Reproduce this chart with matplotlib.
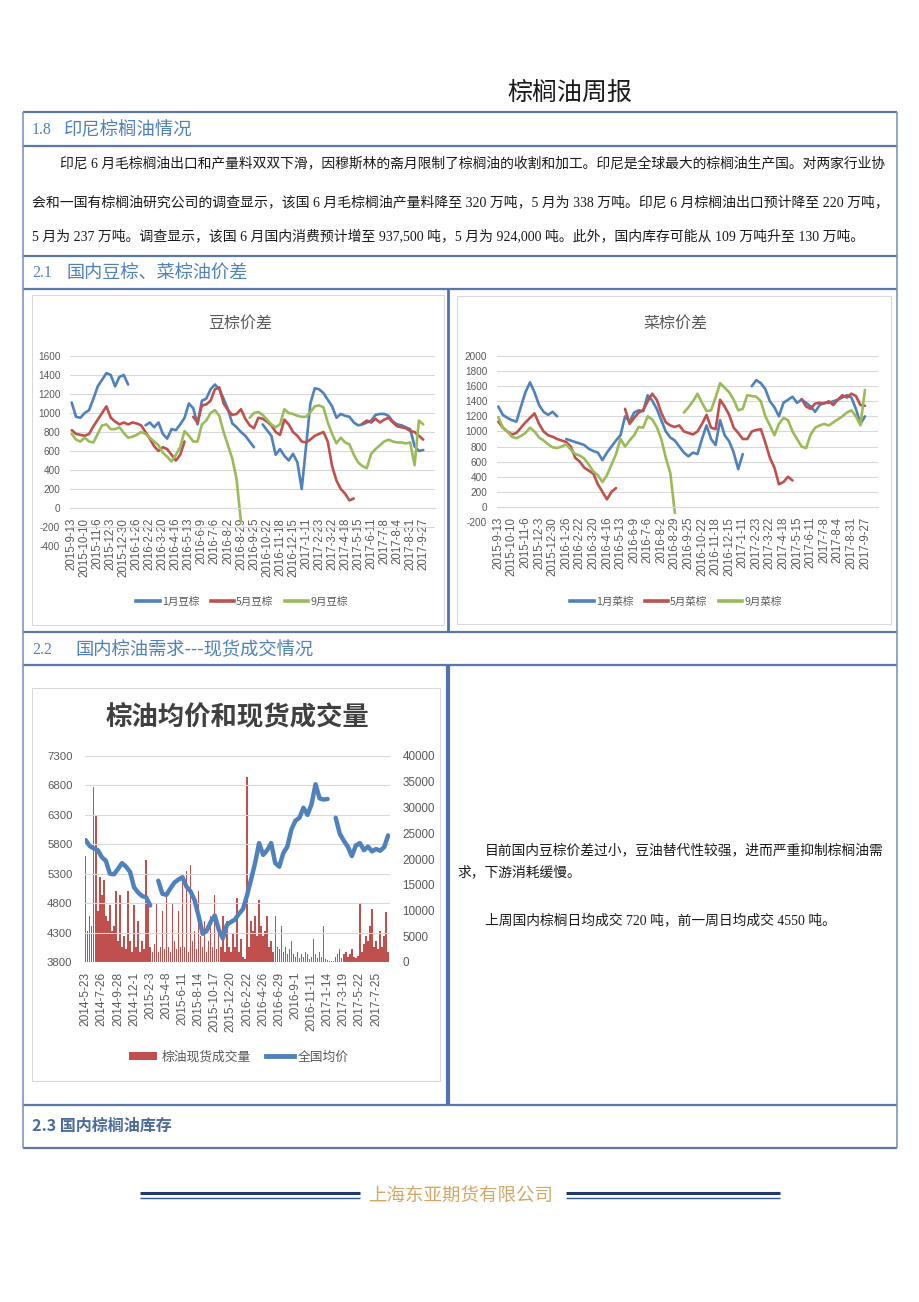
import numpy as np
import matplotlib
matplotlib.use('Agg')
import matplotlib.pyplot as plt
from matplotlib.lines import Line2D
from matplotlib.patches import Rectangle, Patch

N = None

# ---------------- data ----------------
spread_labels = ['2015-9-13', '2015-10-10', '2015-11-6', '2015-12-3', '2015-12-30', '2016-1-26',
                 '2016-2-22', '2016-3-20', '2016-4-16', '2016-5-13', '2016-6-9', '2016-7-6',
                 '2016-8-2', '2016-8-29', '2016-9-25', '2016-10-22', '2016-11-18', '2016-12-15',
                 '2017-1-11', '2017-2-23', '2017-3-22', '2017-4-18', '2017-5-15', '2017-6-11',
                 '2017-7-8', '2017-8-4', '2017-8-31', '2017-9-27']
SPREAD_PER_LABEL = 3   # samples per category label

soy_names = ['1月豆棕', '5月豆棕', '9月豆棕']
soy_jan = [1110, 960, 950, 1000, 1030, 1150, 1280, 1350, 1420, 1400, 1280, 1380, 1400, 1300, N, N, N,
           870, 900, 850, 900, 780, 730, 830, 820, 880, 950, 1100, 1050, 880, 1130, 1150, 1250, 1300,
           1250, 1150, 1040, 890, 850, 800, 760, 700, 640, N, 880, 820, 760, 560, 620, 550, 500, 570,
           480, 200, 650, 1100, 1260, 1250, 1210, 1140, 1070, 950, 990, 970, 960, 900, 870, 880, 900,
           920, 980, 990, 990, 970, 910, 880, 870, 850, 830, 650, 600, 610]
soy_may = [820, 780, 770, 760, 780, 860, 930, 1000, 1070, 950, 910, 880, 900, 880, 900, 890, 870, 800,
           730, 650, 600, 640, 620, 560, 500, 560, 700, N, 960, 900, 1080, 1090, 1130, 1250, 1270, 1100,
           1030, 980, 990, 1040, 940, 870, 840, 950, 940, 910, 870, 800, 770, 930, 880, 800, 760, 700,
           690, 720, 760, 780, 800, 700, 440, 290, 200, 150, 80, 100, N, 890, 920, 900, 940, 900, 930,
           950, 900, 860, 850, 840, 810, 800, 760, 720]
soy_sep = [780, 720, 700, 740, 700, 690, 780, 870, 880, 830, 830, 850, 790, 740, 750, 770, 800, 780,
           740, 700, 660, 580, 540, 490, 560, 640, 810, 760, 700, 700, 880, 920, 1000, 1030, 970, 800,
           660, 520, 300, -150, N, 950, 1000, 1010, 980, 930, 880, 850, 880, 1040, 1000, 990, 970, 960,
           960, 1010, 1070, 1080, 1060, 900, 780, 680, 740, 690, 670, 560, 480, 440, 420, 570, 620, 660,
           700, 720, 700, 690, 690, 680, 690, 450, 920, 880]

rape_names = ['1月菜棕', '5月菜棕', '9月菜棕']
rape_jan = [1330, 1220, 1180, 1150, 1130, 1330, 1520, 1650, 1520, 1350, 1260, 1220, 1260, 1200, N,
            900, 880, 860, 840, 820, 770, 740, 720, 620, 720, 800, 880, 950, 1200, 1130, 1250, 1280,
            1270, 1480, 1410, 1300, 1150, 1000, 920, 880, 800, 720, 670, 720, 700, 900, 1080, 900, 820,
            1150, 950, 870, 720, 500, 700, N, 1600, 1680, 1640, 1560, 1400, 1320, 1200, 1380, 1420,
            1460, 1380, 1420, 1380, 1330, 1260, 1350, 1380, 1380, 1400, 1420, 1450, 1480, 1450, 1300,
            1100, 1200]
rape_may = [1130, 1050, 1000, 960, 980, 1050, 1120, 1180, 1240, 1100, 1000, 950, 930, 900, 880, 860,
            800, 650, 600, 520, 480, 440, 300, 200, 100, 200, 250, N, 1300, 1100, 1180, 1250, 1280, 1400,
            1500, 1420, 1250, 1120, 1080, 1060, 1080, 1000, 980, 960, 1000, 1100, 1220, 1050, 1030, 1420,
            1330, 1220, 1050, 980, 900, 900, 1000, 1020, 1030, 850, 650, 520, 300, 330, 400, 350, N, 1430,
            1330, 1300, 1370, 1380, 1370, 1400, 1350, 1420, 1480, 1450, 1500, 1470, 1350, 1340]
rape_sep = [1190, 1050, 1000, 930, 910, 940, 980, 1050, 1000, 920, 880, 830, 790, 780, 800, 830, 760,
            700, 680, 640, 560, 470, 420, 330, 420, 560, 700, 900, 800, 880, 950, 1060, 1050, 1200, 1160,
            1060, 900, 650, 450, -80, N, 1250, 1320, 1400, 1500, 1380, 1270, 1280, 1450, 1640, 1580, 1520,
            1420, 1280, 1300, 1480, 1470, 1460, 1400, 1200, 1080, 950, 1100, 1180, 1150, 1000, 900, 800,
            780, 960, 1050, 1080, 1100, 1080, 1120, 1160, 1200, 1250, 1280, 1200, 1080, 1550]

demand_labels = ['2014-5-23', '2014-7-26', '2014-9-28', '2014-12-1', '2015-2-3', '2015-4-8', '2015-6-11',
                 '2015-8-14', '2015-10-17', '2015-12-20', '2016-2-22', '2016-4-26', '2016-6-29',
                 '2016-9-1', '2016-11-11', '2017-1-14', '2017-3-19', '2017-5-22', '2017-7-25']
demand_names = ['棕油现货成交量', '全国均价']
PRICE_PER_LABEL = 4
price = [5870, 5770, 5730, 5700, 5580, 5520, 5300, 5290, 5380, 5480, 5420, 5330, 5070, 4980, 4920, 4900,
         4760, N, 5180, 4960, 4940, 5050, 5150, 5200, 5240, 5080, 5000, 4850, 4580, 4280, 4330, 4480,
         4590, 4350, 4200, 4430, 4480, 4520, 4620, 4700, 4930, 5200, 5480, 5820, 5620, 5700, 5820, 5480,
         5420, 5650, 5760, 6050, 6200, 6250, 6420, 6300, 6480, 6820, 6580, 6560, 6570, N, 6250, 5980,
         5860, 5760, 5600, 5780, 5820, 5700, 5760, 5680, 5720, 5690, 5750, 5950]
VOLUME_PER_LABEL = 8
volume = [20500, 6000, 9000, 7000, 34000, 28500, 10000, 16500,
          13000, 16000, 9000, 8000, 11000, 6000, 7000, 13700,
          4000, 13000, 3000, 5000, 2500, 13700, 4000, 2000,
          11000, 3000, 8000, 2000, 4000, 2500, 19800, 12500,
          3000, 2000, 3500, 11400, 2000, 3000, 10000, 2500,
          13000, 3000, 2000, 11400, 4000, 2500, 10000, 3000,
          16600, 3000, 17700, 2000, 18800, 4000, 6000, 2500,
          13700, 5000, 3000, 8000, 2000, 4000, 9000, 3000,
          13000, 2500, 6000, 3000, 9000, 2000, 8000, 3000,
          2000, 5700, 3000, 12500, 2000, 4500, 1000, 500,
          36000, 3000, 8000, 6000, 9000, 5000, 12000, 7000,
          5000, 6000, 9000, 3000, 4000, 2000, 9000, 3000,
          2500, 7000, 2000, 3000, 1500, 2500, 4000, 1500,
          1000, 2000, 800, 1500, 1000, 2000, 1500, 600,
          1000, 4500, 1500, 800, 2000, 1000, 7000, 500,
          300, 200, 100, 200, 1000, 1500, 2500, 800,
          1500, 2000, 1000, 1500, 2500, 1000, 800, 1200,
          11400, 2000, 3500, 5000, 4000, 7000, 10300, 3000,
          4000, 2500, 6000, 3000, 5000, 9700, 2000]

# ---------------- styling ----------------
CJK = ['Noto Sans CJK SC', 'DejaVu Sans']
SERIF = ['Liberation Serif', 'Noto Sans CJK SC']
NUM = ['Liberation Sans', 'DejaVu Sans']
plt.rcParams['font.family'] = CJK
plt.rcParams['axes.unicode_minus'] = False

C_BLUE, C_RED, C_GREEN = '#4f81bd', '#c0504d', '#9bbb59'
GRID = '#d9d9d9'
TICK = '#595959'
HEAD = '#4f81bd'
RULE = '#5a78aa'

W, H = 920, 1302
fig = plt.figure(figsize=(W / 100, H / 100), dpi=100)
fig.patch.set_facecolor('white')
renderer = fig.canvas.get_renderer()


def fx(x):
    return x / W


def fy(y):
    return 1 - y / H


def hline(x0, x1, y, color=RULE, lw=1.6):
    fig.add_artist(Line2D([fx(x0), fx(x1)], [fy(y), fy(y)], transform=fig.transFigure,
                          color=color, lw=lw, solid_capstyle='butt'))


def vline(x, y0, y1, color=RULE, lw=1.2):
    fig.add_artist(Line2D([fx(x), fx(x)], [fy(y0), fy(y1)], transform=fig.transFigure,
                          color=color, lw=lw, solid_capstyle='butt'))


def text(x, y, s, size, **kw):
    kw.setdefault('va', 'center')
    kw.setdefault('ha', 'left')
    return fig.text(fx(x), fy(y), s, fontsize=size, **kw)


def fit_text(x0, x1, y, s, size, **kw):
    t = text(x0, y, s, size, **kw)
    w = t.get_window_extent(renderer).width
    t.set_fontsize(size * (x1 - x0) / w)
    return t


def frame(x0, y0, x1, y1):
    fig.add_artist(Rectangle((fx(x0), fy(y1)), fx(x1) - fx(x0), fy(y0) - fy(y1),
                             transform=fig.transFigure, fill=False, edgecolor=GRID, lw=0.8))


def to_arr(v):
    return np.array([np.nan if a is None else a for a in v], float)


def style_ticks(labels, family, size):
    for t in labels:
        t.set_fontfamily(family)
        t.set_fontsize(size)
        t.set_color(TICK)


# ---------------- page layout ----------------
text(570, 93, '棕榈油周报', 18, ha='center', color='#1a1a1a')

for y in (112, 146, 256, 289, 632, 665, 1105, 1148):
    hline(23, 897, y)
vline(23, 112, 1148, color='#7d96c4')
vline(897, 112, 1148, color='#7d96c4')
vline(448, 289, 632, color='#4f72b0', lw=2.0)
vline(448, 665, 1105, color='#4f72b0', lw=3.0)

# section headers
fit_text(32, 52, 130, '1.8', 12, color=HEAD, family=SERIF)
fit_text(64, 192, 130, '印尼棕榈油情况', 12, color=HEAD)
fit_text(32, 52, 273, '2.1', 12, color=HEAD, family=SERIF)
fit_text(66, 247, 273, '国内豆棕、菜棕油价差', 12, color=HEAD)
fit_text(32, 52, 650, '2.2', 12, color=HEAD, family=SERIF)
fit_text(75, 313, 650, '国内棕油需求---现货成交情况', 12, color=HEAD)
fit_text(32, 172, 1126, '2.3 国内棕榈油库存', 11.5, color='#4a6a9c', fontweight='bold')

# paragraph 1.8
p1 = fit_text(60, 890, 163, '印尼 6 月毛棕榈油出口和产量料双双下滑，因穆斯林的斋月限制了棕榈油的收割和加工。'
              '印尼是全球最大的棕榈油生产国。对两家行业协', 9.8, color='#1a1a1a', family=SERIF)
p2 = fit_text(32, 890, 202, '会和一国有棕榈油研究公司的调查显示，该国 6 月毛棕榈油产量料降至 320 万吨，'
              '5 月为 338 万吨。印尼 6 月棕榈油出口预计降至 220 万吨，', 9.8, color='#1a1a1a', family=SERIF)
text(32, 237, '5 月为 237 万吨。调查显示，该国 6 月国内消费预计增至 937,500 吨，5 月为 924,000 吨。'
     '此外，国内库存可能从 109 万吨升至 130 万吨。', p2.get_fontsize(), color='#1a1a1a', family=SERIF)

# right-side text next to demand chart
r1 = fit_text(485, 885, 850, '目前国内豆棕价差过小，豆油替代性较强，进而严重抑制棕榈油需', 9.9,
              color='#1a1a1a', family=SERIF)
text(457, 872, '求，下游消耗缓慢。', r1.get_fontsize(), color='#1a1a1a', family=SERIF)
text(485, 920, '上周国内棕榈日均成交 720 吨，前一周日均成交 4550 吨。', r1.get_fontsize(),
     color='#1a1a1a', family=SERIF)

# footer
hline(140, 360, 1193, color='#1f3a6e', lw=2.2)
hline(140, 360, 1197.5, color='#2f5597', lw=1.0)
hline(566, 780, 1193, color='#1f3a6e', lw=2.2)
hline(566, 780, 1197.5, color='#2f5597', lw=1.0)
fit_text(368, 552, 1196, '上海东亚期货有限公司', 13, color='#d2a866')

# chart frames
frame(32, 295, 444, 625)
frame(457, 296, 891, 624)
frame(32, 688, 440, 1081)


# ---------------- spread charts ----------------
def spread_chart(box, label0, spacing, ylim, ystep, series, names, title, title_xy, legend_xy):
    left, top, right, bottom = box
    ax = fig.add_axes([fx(left), fy(bottom), fx(right) - fx(left), fy(top) - fy(bottom)])
    ax.patch.set_alpha(0)
    for s in ('top', 'right', 'left'):
        ax.spines[s].set_visible(False)
    ax.spines['bottom'].set_position(('data', 0))
    ax.spines['bottom'].set_color(GRID)
    for vals, c in zip(series, (C_BLUE, C_RED, C_GREEN)):
        arr = to_arr(vals)
        pos = np.arange(len(arr)) / SPREAD_PER_LABEL
        ax.plot(pos, arr, color=c, lw=1.9, solid_joinstyle='round', solid_capstyle='round')
    ax.set_ylim(*ylim)
    ax.set_xlim((left - label0) / spacing, (right - label0) / spacing)
    yt = np.arange(ylim[0], ylim[1] + 1, ystep)
    ax.set_yticks(yt)
    ax.set_yticklabels([str(int(v)) for v in yt])
    ax.set_xticks(range(len(spread_labels)))
    ax.set_xticklabels(spread_labels)
    ax.tick_params(axis='x', length=0, pad=7, labelrotation=90)
    ax.tick_params(axis='y', length=0, pad=7)
    style_ticks(ax.get_xticklabels(), NUM, 8.3)
    style_ticks(ax.get_yticklabels(), NUM, 7.2)
    ax.grid(axis='y', color=GRID, lw=0.8)
    ax.set_axisbelow(True)
    text(title_xy[0], title_xy[1], title, 11.5, ha='center', color=TICK)
    handles = [Line2D([], [], color=c, lw=2.6) for c in (C_BLUE, C_RED, C_GREEN)]
    fig.legend(handles, names, loc='center', bbox_to_anchor=(fx(legend_xy[0]), fy(legend_xy[1])),
               ncol=3, frameon=False, fontsize=7.6, handlelength=2.2, handletextpad=0.2,
               columnspacing=1.1, labelcolor=TICK)
    return ax


spread_chart((70, 356, 435, 546), 71.7, 13.02, (-400, 1600), 200,
             (soy_jan, soy_may, soy_sep), soy_names, '豆棕价差', (240, 323), (242, 602))
spread_chart((497, 356, 878, 522), 498.3, 13.58, (-200, 2000), 200,
             (rape_jan, rape_may, rape_sep), rape_names, '菜棕价差', (675, 323), (676, 602))

# ---------------- demand chart ----------------
left, top, right, bottom = 85, 756, 390, 962
label0, spacing = 85.7, 16.13
axb = fig.add_axes([fx(left), fy(bottom), fx(right) - fx(left), fy(top) - fy(bottom)])
axl = axb.twinx()
# volume bars on the right-hand scale, price line on the left-hand scale
axb.yaxis.tick_right()
axb.yaxis.set_label_position('right')
axl.yaxis.tick_left()
axl.yaxis.set_label_position('left')

vol = np.array(volume, float)
vpos = np.arange(len(vol)) / VOLUME_PER_LABEL
axb.bar(vpos, vol, width=0.09, color=C_RED, edgecolor='none', align='center')
axb.set_ylim(0, 40000)
axb.set_xlim((left - label0) / spacing, (right - label0) / spacing)
axb.set_yticks(np.arange(0, 40001, 5000))
axb.set_yticklabels([str(v) for v in range(0, 40001, 5000)])
axb.set_xticks(range(len(demand_labels)))
axb.set_xticklabels(demand_labels)
axb.tick_params(axis='both', length=0)
axb.tick_params(axis='x', pad=7, labelrotation=90)
axb.tick_params(axis='y', pad=9, left=False, labelleft=False, right=False, labelright=True)
style_ticks(axb.get_xticklabels(), NUM, 8.6)
style_ticks(axb.get_yticklabels(), NUM, 8.4)
for s in axb.spines.values():
    s.set_visible(False)

pr = to_arr(price)
ppos = np.arange(len(pr)) / PRICE_PER_LABEL
axl.set_ylim(3800, 7300)
axl.set_yticks(np.arange(3800, 7301, 500))
axl.set_yticklabels([str(v) for v in range(3800, 7301, 500)])
axl.tick_params(axis='both', length=0)
axl.tick_params(axis='y', pad=9, left=False, labelleft=True, right=False, labelright=False)
style_ticks(axl.get_yticklabels(), NUM, 8.2)
axl.grid(axis='y', color=GRID, lw=0.8, zorder=0)
axl.plot(ppos, pr, color=C_BLUE, lw=3.2, solid_joinstyle='round', solid_capstyle='round', zorder=3)
for s in axl.spines.values():
    s.set_visible(False)

text(237, 718, '棕油均价和现货成交量', 19, ha='center', color='#404040', fontweight='bold')
handles = [Patch(facecolor=C_RED, edgecolor='none'), Line2D([], [], color=C_BLUE, lw=3.5)]
fig.legend(handles, demand_names, loc='center', bbox_to_anchor=(fx(239), fy(1057)), ncol=2,
           frameon=False, fontsize=9.2, handlelength=2.2, handleheight=0.6, handletextpad=0.3,
           columnspacing=1.2, labelcolor=TICK)

fig.savefig('out.png', dpi=100, facecolor='white')
